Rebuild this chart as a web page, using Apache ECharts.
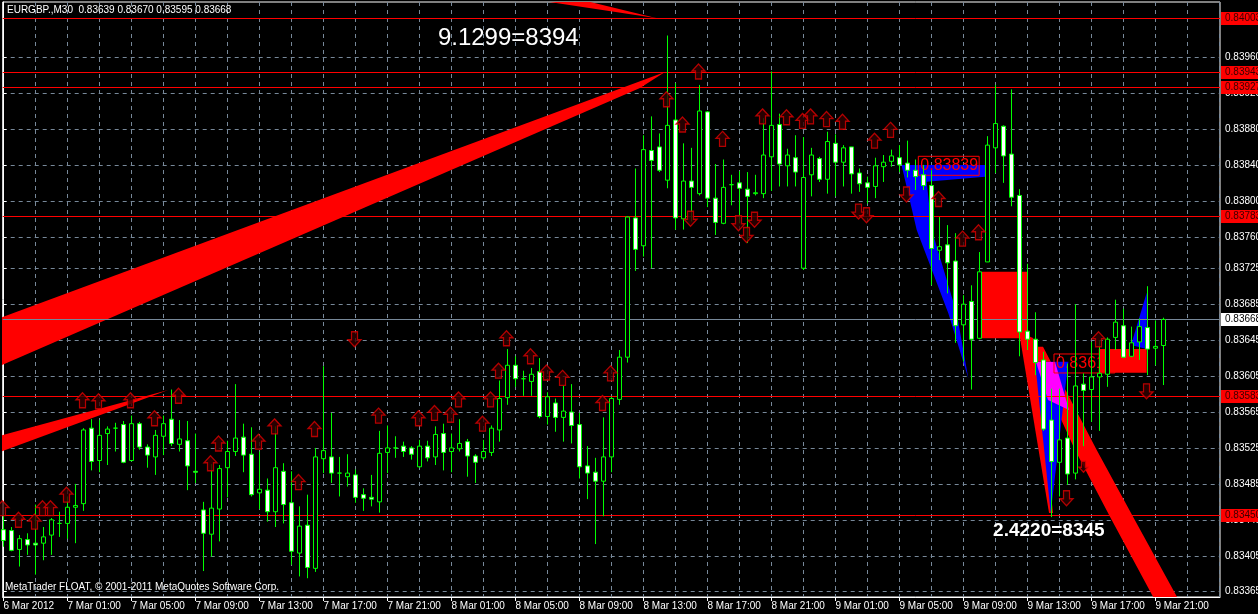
<!DOCTYPE html>
<html><head><meta charset="utf-8">
<script src="https://cdn.jsdelivr.net/npm/echarts/dist/echarts.min.js"></script>
<style>html,body{margin:0;padding:0;background:#000;}#c{width:1258px;height:614px;}</style>
</head><body><div id="c"></div>
<script>
// ---- tick labels ----
const xLabels = ['6 Mar 2012','7 Mar 01:00','7 Mar 05:00','7 Mar 09:00','7 Mar 13:00','7 Mar 17:00','7 Mar 21:00','8 Mar 01:00','8 Mar 05:00','8 Mar 09:00','8 Mar 13:00','8 Mar 17:00','8 Mar 21:00','9 Mar 01:00','9 Mar 05:00','9 Mar 09:00','9 Mar 13:00','9 Mar 17:00','9 Mar 21:00'];
const xLabelBars = xLabels.map((_, i) => i * 8);
const xGridBars = Array.from({length: 39}, (_, i) => i * 4);
const yTicks = [0.83365,0.83405,0.83445,0.83485,0.83525,0.83565,0.83605,0.83645,0.83685,0.83725,0.83760,0.83800,0.83840,0.83880,0.83920,0.83960];

// ---- M30 bars (index 0 = 6 Mar 21:00) ----
const openP = [
0.83434,0.83433,0.83412,0.83423,0.83419,0.83419,0.83428,0.83441,0.83441,0.83459,
0.83463,0.83547,0.83511,0.83541,0.83547,0.83551,0.83511,0.83552,0.83526,0.83515,
0.83538,0.83557,0.83529,0.83533,0.83499,0.83456,0.83429,0.83457,0.83503,0.83521,
0.83537,0.83518,0.83475,0.83478,0.83454,0.83499,0.83464,0.83408,0.83439,0.83391,
0.83513,0.83515,0.83497,0.83493,0.83495,0.83473,0.83470,0.83465,0.83520,0.83525,
0.83527,0.83525,0.83504,0.83527,0.83515,0.83541,0.83521,0.83524,0.83532,0.83516,
0.83514,0.83520,0.83545,0.83581,0.83617,0.83602,0.83599,0.83610,0.83560,0.83575,
0.83559,0.83565,0.83551,0.83505,0.83498,0.83488,0.83515,0.83579,0.83626,0.83781,
0.83750,0.83856,0.83860,0.83823,0.83890,0.83780,0.83822,0.83808,0.83899,0.83803,
0.83775,0.83818,0.83820,0.83813,0.83808,0.83808,0.83849,0.83885,0.83839,0.83848,
0.83725,0.83829,0.83847,0.83824,0.83864,0.83843,0.83860,0.83831,0.83820,0.83816,
0.83838,0.83844,0.83848,0.83842,0.83834,0.83829,0.83817,0.83745,0.83751,0.83733,
0.83662,0.83688,0.83647,0.83732,0.83859,0.83883,0.83852,0.83806,0.83655,0.83646,
0.83623,0.83556,0.83509,0.83536,0.83497,0.83596,0.83590,0.83604,0.83607,0.83648,
0.83661,0.83627,0.83643,0.83659,0.83636,0.83639];
const highP = [
0.83450,0.83437,0.83428,0.83430,0.83462,0.83437,0.83447,0.83454,0.83471,0.83485,
0.83547,0.83557,0.83556,0.83549,0.83553,0.83555,0.83561,0.83554,0.83529,0.83545,
0.83561,0.83590,0.83556,0.83555,0.83541,0.83465,0.83507,0.83506,0.83533,0.83596,
0.83552,0.83548,0.83521,0.83491,0.83549,0.83508,0.83499,0.83460,0.83473,0.83525,
0.83616,0.83564,0.83515,0.83518,0.83501,0.83480,0.83495,0.83544,0.83550,0.83538,
0.83532,0.83527,0.83534,0.83533,0.83549,0.83552,0.83541,0.83557,0.83535,0.83518,
0.83534,0.83550,0.83600,0.83635,0.83627,0.83611,0.83614,0.83625,0.83587,0.83580,
0.83594,0.83596,0.83564,0.83527,0.83514,0.83559,0.83582,0.83634,0.83783,0.83836,
0.83873,0.83894,0.83875,0.83984,0.83931,0.83864,0.83859,0.83929,0.83900,0.83841,
0.83846,0.83829,0.83833,0.83832,0.83829,0.83892,0.83944,0.83897,0.83858,0.83873,
0.83871,0.83859,0.83849,0.83877,0.83874,0.83862,0.83860,0.83836,0.83827,0.83848,
0.83851,0.83857,0.83862,0.83867,0.83846,0.83840,0.83834,0.83782,0.83773,0.83764,
0.83695,0.83706,0.83743,0.83872,0.83929,0.83884,0.83924,0.83813,0.83730,0.83676,
0.83632,0.83591,0.83591,0.83619,0.83685,0.83608,0.83643,0.83645,0.83648,0.83690,
0.83680,0.83660,0.83669,0.83705,0.83667,0.83670];
const lowP = [
0.83415,0.83410,0.83393,0.83406,0.83384,0.83400,0.83406,0.83426,0.83424,0.83419,
0.83455,0.83500,0.83498,0.83506,0.83521,0.83508,0.83510,0.83523,0.83503,0.83495,
0.83517,0.83527,0.83521,0.83478,0.83486,0.83388,0.83404,0.83421,0.83470,0.83516,
0.83498,0.83471,0.83457,0.83443,0.83437,0.83441,0.83395,0.83382,0.83380,0.83387,
0.83497,0.83486,0.83471,0.83482,0.83464,0.83455,0.83460,0.83453,0.83497,0.83514,
0.83515,0.83512,0.83503,0.83510,0.83506,0.83500,0.83498,0.83521,0.83493,0.83486,
0.83512,0.83516,0.83532,0.83573,0.83593,0.83583,0.83583,0.83558,0.83551,0.83543,
0.83532,0.83530,0.83491,0.83468,0.83418,0.83449,0.83498,0.83573,0.83620,0.83722,
0.83738,0.83725,0.83832,0.83814,0.83768,0.83768,0.83777,0.83806,0.83793,0.83762,
0.83774,0.83795,0.83775,0.83753,0.83806,0.83803,0.83811,0.83816,0.83816,0.83816,
0.83723,0.83805,0.83821,0.83808,0.83805,0.83816,0.83808,0.83810,0.83797,0.83803,
0.83821,0.83838,0.83832,0.83826,0.83812,0.83812,0.83706,0.83734,0.83697,0.83642,
0.83621,0.83590,0.83646,0.83732,0.83831,0.83820,0.83794,0.83627,0.83634,0.83606,
0.83544,0.83448,0.83471,0.83484,0.83490,0.83527,0.83554,0.83544,0.83593,0.83634,
0.83625,0.83626,0.83623,0.83606,0.83617,0.83595];
const closeP = [
0.83422,0.83411,0.83424,0.83417,0.83417,0.83426,0.83445,0.83441,0.83459,0.83461,
0.83545,0.83510,0.83539,0.83546,0.83547,0.83509,0.83552,0.83526,0.83517,0.83539,
0.83552,0.83530,0.83535,0.83505,0.83498,0.83430,0.83458,0.83502,0.83521,0.83536,
0.83517,0.83473,0.83479,0.83454,0.83503,0.83462,0.83410,0.83438,0.83392,0.83515,
0.83522,0.83497,0.83497,0.83497,0.83470,0.83469,0.83468,0.83519,0.83525,0.83525,
0.83521,0.83518,0.83527,0.83514,0.83540,0.83520,0.83525,0.83530,0.83516,0.83509,
0.83521,0.83547,0.83580,0.83617,0.83602,0.83602,0.83607,0.83560,0.83582,0.83559,
0.83566,0.83550,0.83504,0.83497,0.83488,0.83515,0.83580,0.83626,0.83782,0.83746,
0.83857,0.83845,0.83834,0.83884,0.83781,0.83822,0.83815,0.83900,0.83803,0.83776,
0.83815,0.83818,0.83814,0.83805,0.83809,0.83851,0.83884,0.83841,0.83851,0.83832,
0.83826,0.83851,0.83824,0.83866,0.83843,0.83859,0.83830,0.83819,0.83815,0.83839,
0.83843,0.83850,0.83840,0.83834,0.83827,0.83817,0.83747,0.83749,0.83731,0.83661,
0.83685,0.83646,0.83721,0.83862,0.83886,0.83850,0.83804,0.83654,0.83646,0.83620,
0.83546,0.83510,0.83534,0.83496,0.83594,0.83589,0.83604,0.83608,0.83646,0.83665,
0.83626,0.83642,0.83660,0.83635,0.83638,0.83668];

// ---- signal arrows [bar, price] ----
const upArrows = [[0,0.83458],[2,0.83445],[4,0.83443],[5,0.83458],[6,0.83458],[8,0.83473],[10,0.83578],[12,0.83577],[16,0.83578],[19,0.83558],[22,0.83583],[26,0.83508],[27,0.83530],[32,0.83532],[34,0.83549],[37,0.83487],[39,0.83546],[47,0.83561],[52,0.83558],[54,0.83564],[56,0.83562],[57,0.83579],[60,0.83552],[61,0.83579],[62,0.83611],[63,0.83647],[66,0.83627],[68,0.83609],[70,0.83603],[75,0.83575],[76,0.83608],[83,0.83913],[85,0.83885],[87,0.83944],[90,0.83869],[95,0.83894],[98,0.83893],[100,0.83889],[101,0.83894],[103,0.83891],[105,0.83888],[109,0.83867],[111,0.83879],[117,0.83802],[120,0.83758],[122,0.83765],[137,0.83646]];
const downArrows = [[44,0.83646],[86,0.83780],[92,0.83775],[93,0.83762],[94,0.83779],[107,0.83788],[108,0.83784],[113,0.83807],[133,0.83469],[143,0.83588]];
const smallDownArrows = [[135,0.83504]];

// ---- horizontal levels ----
const redLevels = [0.84003,0.83943,0.83927,0.83783,0.83583,0.83450];
const bidLevel = 0.83668;

// ---- drawn objects, vertices as [bar, price] ----
const bandUpperLeft = [[82.69,0.839434],[79.56,0.839256],[-1.69,0.836115],[-1.69,0.836655]];
const bandTopStroke = [[81.69,0.840032],[50.06,0.840458],[62.06,0.840458]];
const bandLowerLeft = [[20.6,0.835895],[-1,0.835187],[-1,0.835372]];
const blueUpper = [[112.28,0.838399],[122.69,0.838399],[122.69,0.838269],[115.4,0.838213],[116.03,0.837676],[119.15,0.836749],[120.6,0.836025],[118.1,0.836749],[114.15,0.837676],[112.31,0.838377]];
const redBoxA = [122.28,127.94,0.836470,0.837212];
const redBoxB = [136.9,142.9,0.836087,0.836351];
const blueRight = [[140.94,0.836396],[142.9,0.836978],[142.9,0.836351]];
const blueLower = [[128.94,0.83621],[133.1,0.83621],[130.9,0.834523]];
const magentaLower = [[129.06,0.836207],[131.44,0.836207],[133.19,0.835673],[130.56,0.835784]];
const redWedgeA = [[126.94,0.836541],[128.69,0.836474],[131.19,0.834526],[130.69,0.834526]];
const redBandB = [[128.06,0.836377],[133.94,0.835227],[138.31,0.834485],[144.31,0.833491],[147.31,0.833491],[141.19,0.834485],[136.65,0.835227],[129.94,0.836377]];

// ---- text objects [bar, price, text] ----
const boxNotes = [[114.35,0.83839,'0.83839'],[131.31,0.83619,'0.83619']];
const bigNotes = [[54.3,0.839813,'9.1299=8394'],[123.7,0.834326,'2.4220=8345']];

const FONT = '"Liberation Sans", Arial, sans-serif';
const RED = '#ff0000', GRID = '#778899';
function rectPts(r){ return [[r[0],r[3]],[r[1],r[3]],[r[1],r[2]],[r[0],r[2]]]; }

const backShapes = [
  {pts: bandUpperLeft, fill: RED},
  {pts: bandTopStroke, fill: RED},
  {pts: bandLowerLeft, fill: RED},
  {pts: rectPts(redBoxA), fill: RED},
  {pts: blueUpper, fill: '#0000ff'},
  {pts: redBandB, fill: RED},
  {pts: redWedgeA, fill: RED},
  {pts: blueLower, fill: '#0000ff'},
  {pts: magentaLower, fill: '#ff00ff'},
  {pts: blueRight, fill: '#0000ff'}
];
const frontShapes = [{pts: rectPts(redBoxB), fill: RED}];

function polySeries(list, z){
  return {
    type: 'custom', z: z, clip: true, silent: true, animation: false,
    data: list.map(s => s.pts[0]),
    renderItem: (params, api) => {
      const s = list[params.dataIndex];
      return {type: 'polygon', shape: {points: s.pts.map(p => api.coord(p))}, style: {fill: s.fill}};
    }
  };
}

// horizontal level lines with price boxes on the axis
const levelItems = redLevels.map(v => ({v: v, line: RED, bg: RED, fg: '#3a0000'}))
  .concat([{v: bidLevel, line: GRID, bg: '#ffffff', fg: '#000000'}]);
const levelSeries = {
  type: 'custom', z: 2, clip: false, silent: true, animation: false,
  data: levelItems.map(l => [0, l.v]),
  renderItem: (params, api) => {
    const l = levelItems[params.dataIndex];
    const cs = params.coordSys;
    const y = Math.round(api.coord([0, l.v])[1]) + 0.5;
    return {type: 'group', children: [
      {type: 'line', shape: {x1: cs.x, y1: y, x2: cs.x + cs.width, y2: y}, style: {stroke: l.line, lineWidth: 1}},
      {type: 'text', x: cs.x + cs.width + 1, y: y, z2: 5, style: {text: l.v.toFixed(5), fill: l.fg, font: '10px ' + FONT,
        align: 'left', verticalAlign: 'middle', backgroundColor: l.bg, padding: [2, 8, 1, 4]}}
    ]};
  }
};

const UP_PATH = 'path://M6.5,0L13,7L9.5,7L9.5,15L3.5,15L3.5,7L0,7Z';
const DOWN_PATH = 'path://M3.5,0L9.5,0L9.5,8L13,8L6.5,15L0,8L3.5,8Z';
const arrowStyle = {color: '#300000', borderColor: '#dd0000', borderWidth: 1.3};

const chart = echarts.init(document.getElementById('c'));
chart.setOption({
  backgroundColor: '#000000',
  animation: false,
  textStyle: {fontFamily: FONT},
  grid: {left: 2.7, right: 38, top: 2, bottom: 17, show: true, borderColor: '#ffffff', borderWidth: 1, backgroundColor: 'transparent', containLabel: false, outerBoundsMode: 'none'},
  xAxis: [{
    type: 'value', min: -0.1, max: 152.06, position: 'bottom',
    axisLine: {show: true, lineStyle: {color: '#ffffff', width: 1}},
    axisTick: {show: true, length: 4, lineStyle: {color: '#ffffff'}, customValues: xLabelBars},
    axisLabel: {show: true, customValues: xLabelBars, color: '#ffffff', fontSize: 10, fontFamily: FONT, align: 'left', margin: 4,
      formatter: v => xLabels[Math.round(v / 8)] || ''},
    splitLine: {show: false}
  }, {
    type: 'value', min: -0.1, max: 152.06, position: 'bottom',
    axisLine: {show: false}, axisLabel: {show: false},
    axisTick: {show: false, customValues: xGridBars},
    splitLine: {show: true, lineStyle: {color: GRID, type: [4, 4], width: 1}}
  }],
  yAxis: {
    type: 'value', position: 'right', min: 0.833591, max: 0.840213,
    axisLine: {show: true, lineStyle: {color: '#ffffff', width: 1}},
    axisTick: {show: true, length: 3, lineStyle: {color: '#ffffff'}, customValues: yTicks},
    axisLabel: {show: true, customValues: yTicks, color: '#ffffff', fontSize: 10, fontFamily: FONT, margin: 5,
      formatter: v => v.toFixed(5)},
    splitLine: {show: true, lineStyle: {color: GRID, type: [4, 4], width: 1}}
  },
  graphic: [
    {type: 'text', left: 7, top: 5, z: 10, style: {text: 'EURGBP.,M30  0.83639 0.83670 0.83595 0.83668', fill: '#ffffff', font: '10px ' + FONT}},
    {type: 'text', left: 5, top: 582, z: 10, style: {text: 'MetaTrader FLOAT, \u00a9 2001-2011 MetaQuotes Software Corp.', fill: '#ffffff', font: '10px ' + FONT}}
  ],
  series: [
    polySeries(backShapes, 1),
    levelSeries,
    {
      type: 'custom', z: 3, clip: true, silent: true, animation: false,
      data: boxNotes.map(n => [n[0], n[1]]),
      renderItem: (params, api) => {
        const n = boxNotes[params.dataIndex];
        const pt = api.coord([n[0], n[1]]);
        return {type: 'text', x: pt[0], y: pt[1], style: {text: n[2], fill: RED, font: '16px ' + FONT,
          align: 'left', verticalAlign: 'middle', borderColor: RED, borderWidth: 1, padding: [2, 1, 1, 2]}};
      }
    },
    polySeries(frontShapes, 4),
    {
      type: 'candlestick', z: 5, silent: true, animation: false, clip: true,
      dimensions: ['bar', 'open', 'close', 'lowest', 'highest'],
      encode: {x: 'bar', y: ['open', 'close', 'lowest', 'highest']},
      data: openP.map((o, i) => [i, o, closeP[i], lowP[i], highP[i]]),
      barWidth: 4,
      itemStyle: {color: '#000000', color0: '#ffffff', borderColor: '#00ff00', borderColor0: '#00ff00', borderColorDoji: '#00ff00', borderWidth: 1},
      emphasis: {disabled: true}
    },
    {type: 'scatter', z: 6, silent: true, animation: false, data: upArrows, symbol: UP_PATH, symbolSize: [13, 15], symbolOffset: [-1, 0], itemStyle: arrowStyle},
    {type: 'scatter', z: 6, silent: true, animation: false, data: downArrows, symbol: DOWN_PATH, symbolSize: [13, 15], symbolOffset: [-1, 0], itemStyle: arrowStyle},
    {type: 'scatter', z: 6, silent: true, animation: false, data: smallDownArrows, symbol: DOWN_PATH, symbolSize: [9, 11], itemStyle: arrowStyle},
    {
      type: 'custom', z: 7, clip: false, silent: true, animation: false,
      data: bigNotes.map(n => [n[0], n[1]]),
      renderItem: (params, api) => {
        const n = bigNotes[params.dataIndex];
        const pt = api.coord([n[0], n[1]]);
        const font = params.dataIndex === 0 ? '24px ' + FONT : 'bold 19px ' + FONT;
        return {type: 'text', x: pt[0], y: pt[1], style: {text: n[2], fill: '#ffffff', font: font, align: 'left', verticalAlign: 'middle'}};
      }
    }
  ]
});
</script></body></html>
